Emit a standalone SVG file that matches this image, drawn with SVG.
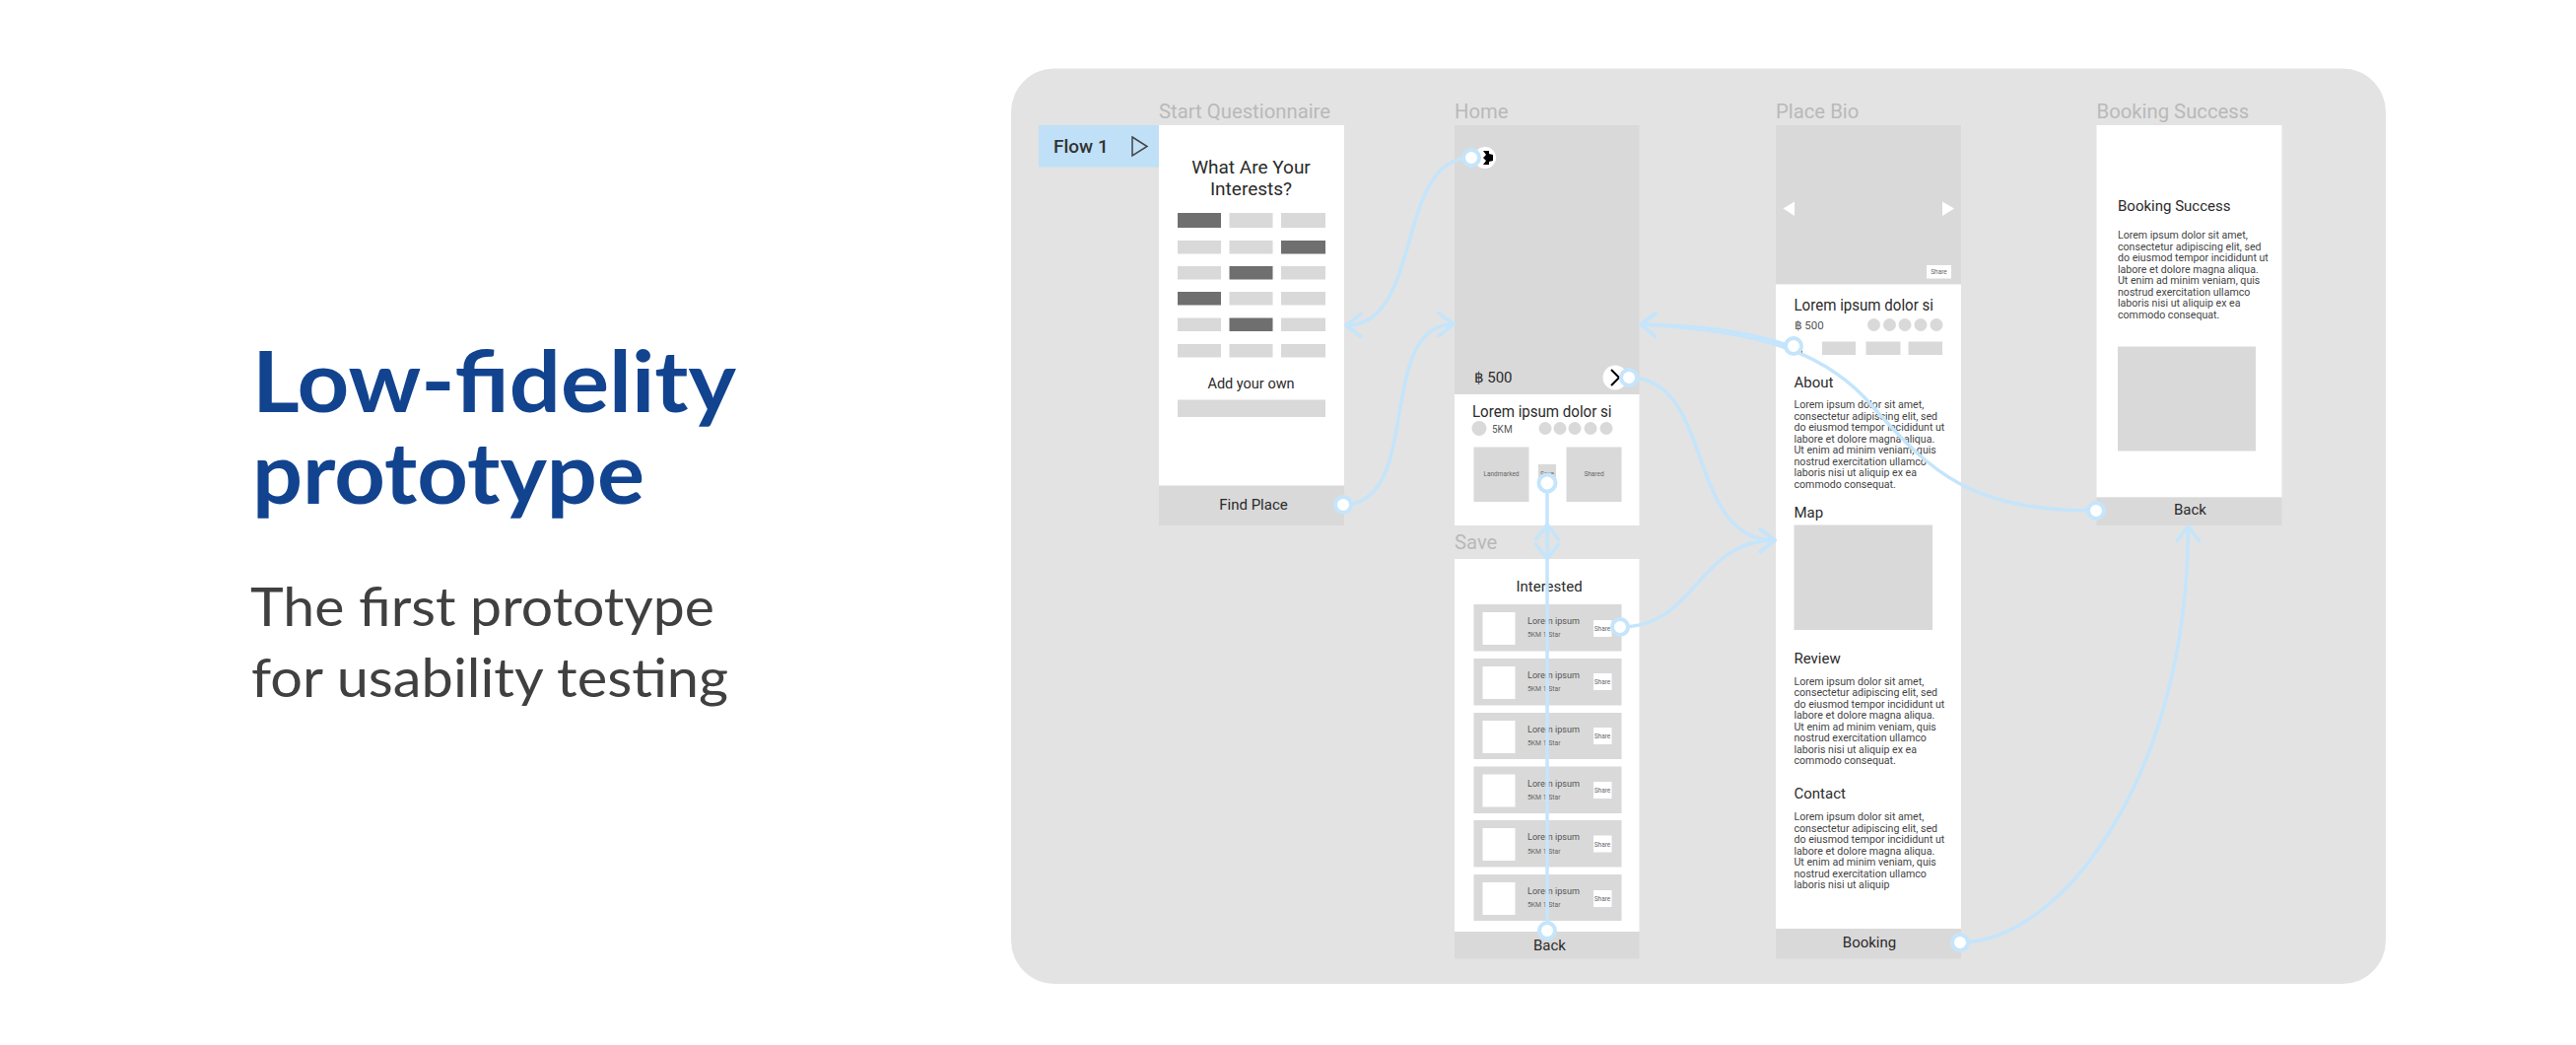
<svg xmlns="http://www.w3.org/2000/svg" width="2614" height="1060" viewBox="0 0 2614 1060">
<style>
text{font-family:Roboto,"Liberation Sans",sans-serif;fill:#2b2b2b}
.h1{font-family:Lato,"Noto Sans",sans-serif;font-weight:700;font-size:87px;fill:#12438f}
.h2{font-family:Lato,"Noto Sans",sans-serif;font-weight:400;font-size:54px;fill:#404040}
.lbl{font-size:20.300px;fill:#b9b9b9}
.c{text-anchor:middle}
.t15{font-size:15px}
.t17{font-size:16px}
.p{font-size:10.600px;fill:#444}
.s1{font-size:9.500px;fill:#555}
.s2{font-size:7.500px;fill:#666}
.s3{font-size:6.500px;fill:#666}
.w{fill:#fff}
.g{fill:#d9d9d9}
.d{fill:#6f6f6f}
.conn{fill:none;stroke:#c4e5fb;stroke-width:3.500;stroke-linecap:round}
.hdl{fill:#fff;stroke:#c4e5fb;stroke-width:4}
</style>
<defs>
<marker id="arr" markerUnits="userSpaceOnUse" markerWidth="24" markerHeight="32" refX="19" refY="16" orient="auto" overflow="visible">
<path d="M4,4.500 L19,16 L4,27.500" fill="none" stroke="#c4e5fb" stroke-width="3.500" stroke-linecap="round" stroke-linejoin="round"/>
</marker>
</defs>
<rect width="2614" height="1060" fill="#fff"/>
<g id="heading">
<text class="h1" x="256" y="418" textLength="491" lengthAdjust="spacingAndGlyphs">Low-fidelity</text>
<text class="h1" x="256" y="511" textLength="398" lengthAdjust="spacingAndGlyphs">prototype</text>
<text class="h2" x="254" y="635" textLength="471" lengthAdjust="spacingAndGlyphs">The first prototype</text>
<text class="h2" x="255" y="707" textLength="484" lengthAdjust="spacingAndGlyphs">for usability testing</text>
</g>
<rect id="panel" x="1026" y="69.500" width="1395" height="928.500" rx="44" fill="#e3e3e3"/>
<g id="flow-start">
<rect x="1054" y="127" width="122" height="42.500" fill="#bfe0f7"/>
<text x="1069" y="155" font-size="19" font-weight="500" style="fill:#333">Flow 1</text>
<path d="M1149,139 L1164,148.500 L1149,158 Z" fill="none" stroke="#444" stroke-width="1.500"/>
</g>
<g id="start-questionnaire">
<text class="lbl" x="1176" y="120">Start Questionnaire</text>
<rect class="w" x="1176" y="127" width="188" height="406"/>
<text class="c" x="1269.500" y="176" font-size="19">What Are Your</text>
<text class="c" x="1269.500" y="198" font-size="19">Interests?</text>
<rect class="d" x="1195" y="216" width="44" height="15"/><rect class="g" x="1247.500" y="216" width="44" height="15"/><rect class="g" x="1300" y="216" width="45" height="15"/>
<rect class="g" x="1195" y="244" width="44" height="13.500"/><rect class="g" x="1247.500" y="244" width="44" height="13.500"/><rect class="d" x="1300" y="244" width="45" height="13.500"/>
<rect class="g" x="1195" y="270" width="44" height="13.500"/><rect class="d" x="1247.500" y="270" width="44" height="13.500"/><rect class="g" x="1300" y="270" width="45" height="13.500"/>
<rect class="d" x="1195" y="296" width="44" height="13.500"/><rect class="g" x="1247.500" y="296" width="44" height="13.500"/><rect class="g" x="1300" y="296" width="45" height="13.500"/>
<rect class="g" x="1195" y="322.500" width="44" height="13.500"/><rect class="d" x="1247.500" y="322.500" width="44" height="13.500"/><rect class="g" x="1300" y="322.500" width="45" height="13.500"/>
<rect class="g" x="1195" y="349" width="44" height="13.500"/><rect class="g" x="1247.500" y="349" width="44" height="13.500"/><rect class="g" x="1300" y="349" width="45" height="13.500"/>
<text class="c" x="1269.500" y="394" font-size="14.500">Add your own</text>
<rect class="g" x="1195" y="405.500" width="150" height="17.500"/>
<rect class="g" x="1176" y="492.500" width="188" height="40.500"/>
<text class="c t15" x="1272" y="517">Find Place</text>
</g>
<g id="home">
<text class="lbl" x="1476" y="120">Home</text>
<rect class="g" x="1476" y="127" width="187.500" height="273"/>
<rect class="w" x="1476" y="400" width="187.500" height="133"/>
<circle class="w" cx="1507" cy="160" r="11"/>
<path d="M1505,153 L1511,153 L1511,156 L1515,157 L1515,163 L1511,164 L1511,167 L1505,167 L1508,163 L1505,160 L1508,157 Z" fill="#000"/>
<text class="t15" x="1495.500" y="388">฿ 500</text>
<circle class="w" cx="1639" cy="383" r="12.500"/>
<path d="M1635,375 L1643,383 L1635,391" fill="none" stroke="#000" stroke-width="2"/>
<text class="t17" x="1494" y="423" textLength="141.500" lengthAdjust="spacingAndGlyphs">Lorem ipsum dolor si</text>
<circle class="g" cx="1501" cy="434.500" r="7.500"/>
<text x="1514" y="439" font-size="10" style="fill:#555">5KM</text>
<circle class="g" cx="1568" cy="434.500" r="6.500"/><circle class="g" cx="1583" cy="434.500" r="6.500"/><circle class="g" cx="1598" cy="434.500" r="6.500"/><circle class="g" cx="1614" cy="434.500" r="6.500"/><circle class="g" cx="1630" cy="434.500" r="6.500"/>
<rect class="g" x="1495.500" y="453.500" width="56" height="55.500"/>
<rect class="g" x="1561" y="471" width="18" height="22"/>
<rect class="g" x="1589.500" y="453.500" width="56" height="55.500"/>
<text class="c s3" x="1523.500" y="483">Landmarked</text>
<text class="c s3" x="1570" y="483">Save</text>
<text class="c s3" x="1617.500" y="483">Shared</text>
</g>
<g id="save">
<text class="lbl" x="1476" y="557">Save</text>
<rect class="w" x="1476" y="567" width="187.500" height="378"/>
<rect class="g" x="1476" y="945" width="187.500" height="27.500"/>
<text class="c t15" x="1572" y="600">Interested</text>
<rect class="g" x="1495.500" y="613" width="150" height="47.500"/><rect class="w" x="1504.500" y="621" width="33" height="33"/><text class="s1" x="1550" y="633" textLength="53" lengthAdjust="spacingAndGlyphs">Lorem ipsum</text><text class="s2" x="1550" y="646" textLength="33.500" lengthAdjust="spacingAndGlyphs">5KM 1 Star</text><rect class="w" x="1617" y="629" width="18.500" height="17"/><text class="c s3" x="1626" y="640">Share</text>
<rect class="g" x="1495.500" y="668" width="150" height="47.500"/><rect class="w" x="1504.500" y="676" width="33" height="33"/><text class="s1" x="1550" y="688" textLength="53" lengthAdjust="spacingAndGlyphs">Lorem ipsum</text><text class="s2" x="1550" y="701" textLength="33.500" lengthAdjust="spacingAndGlyphs">5KM 1 Star</text><rect class="w" x="1617" y="683" width="18.500" height="17"/><text class="c s3" x="1626" y="694">Share</text>
<rect class="g" x="1495.500" y="723" width="150" height="47"/><rect class="w" x="1504.500" y="731" width="33" height="33"/><text class="s1" x="1550" y="742.500" textLength="53" lengthAdjust="spacingAndGlyphs">Lorem ipsum</text><text class="s2" x="1550" y="755.500" textLength="33.500" lengthAdjust="spacingAndGlyphs">5KM 1 Star</text><rect class="w" x="1617" y="738" width="18.500" height="17"/><text class="c s3" x="1626" y="749">Share</text>
<rect class="g" x="1495.500" y="777.500" width="150" height="47.500"/><rect class="w" x="1504.500" y="785.500" width="33" height="33"/><text class="s1" x="1550" y="797.500" textLength="53" lengthAdjust="spacingAndGlyphs">Lorem ipsum</text><text class="s2" x="1550" y="810.500" textLength="33.500" lengthAdjust="spacingAndGlyphs">5KM 1 Star</text><rect class="w" x="1617" y="793" width="18.500" height="17"/><text class="c s3" x="1626" y="804">Share</text>
<rect class="g" x="1495.500" y="832" width="150" height="47.500"/><rect class="w" x="1504.500" y="840" width="33" height="33"/><text class="s1" x="1550" y="852" textLength="53" lengthAdjust="spacingAndGlyphs">Lorem ipsum</text><text class="s2" x="1550" y="865.500" textLength="33.500" lengthAdjust="spacingAndGlyphs">5KM 1 Star</text><rect class="w" x="1617" y="847.500" width="18.500" height="17"/><text class="c s3" x="1626" y="858.500">Share</text>
<rect class="g" x="1495.500" y="887" width="150" height="47"/><rect class="w" x="1504.500" y="895" width="33" height="33"/><text class="s1" x="1550" y="907" textLength="53" lengthAdjust="spacingAndGlyphs">Lorem ipsum</text><text class="s2" x="1550" y="920" textLength="33.500" lengthAdjust="spacingAndGlyphs">5KM 1 Star</text><rect class="w" x="1617" y="903" width="18.500" height="17"/><text class="c s3" x="1626" y="914">Share</text>
<text class="c t15" x="1572.500" y="964">Back</text>
</g>
<g id="place-bio">
<text class="lbl" x="1802" y="120">Place Bio</text>
<rect class="g" x="1802" y="127" width="188" height="161.500"/>
<rect class="w" x="1802" y="288.500" width="188" height="653.500"/>
<path class="w" d="M1821,204.500 L1821,219 L1809.500,211.500 Z"/>
<path class="w" d="M1971,204.500 L1971,219 L1983,211.500 Z"/>
<rect class="w" x="1955" y="269" width="25" height="13.500"/>
<text class="c s3" x="1967.500" y="278">Share</text>
<text class="t17" x="1820.500" y="315" textLength="141.500" lengthAdjust="spacingAndGlyphs">Lorem ipsum dolor si</text>
<text x="1820.500" y="334" font-size="11.500" style="fill:#555">฿ 500</text>
<circle class="g" cx="1901.500" cy="329.500" r="6.500"/><circle class="g" cx="1917.500" cy="329.500" r="6.500"/><circle class="g" cx="1933" cy="329.500" r="6.500"/><circle class="g" cx="1949" cy="329.500" r="6.500"/><circle class="g" cx="1965" cy="329.500" r="6.500"/>
<rect x="1827.500" y="348" width="1.500" height="11" fill="#666"/>
<rect class="g" x="1849" y="346.500" width="34" height="13.500"/><rect class="g" x="1893.500" y="346.500" width="35" height="13.500"/><rect class="g" x="1936.500" y="346.500" width="34.500" height="13.500"/>
<text class="t15" x="1820.500" y="393">About</text>
<text class="p" x="1820.500" y="414">Lorem ipsum dolor sit amet,</text>
<text class="p" x="1820.500" y="425.500">consectetur adipiscing elit, sed</text>
<text class="p" x="1820.500" y="437">do eiusmod tempor incididunt ut</text>
<text class="p" x="1820.500" y="448.500">labore et dolore magna aliqua.</text>
<text class="p" x="1820.500" y="460">Ut enim ad minim veniam, quis</text>
<text class="p" x="1820.500" y="471.500">nostrud exercitation ullamco</text>
<text class="p" x="1820.500" y="483">laboris nisi ut aliquip ex ea</text>
<text class="p" x="1820.500" y="494.500">commodo consequat.</text>
<text class="t15" x="1820.500" y="524.500">Map</text>
<rect class="g" x="1820.500" y="532.500" width="140.500" height="106.500"/>
<text class="t15" x="1820.500" y="673">Review</text>
<text class="p" x="1820.500" y="694.500">Lorem ipsum dolor sit amet,</text>
<text class="p" x="1820.500" y="706">consectetur adipiscing elit, sed</text>
<text class="p" x="1820.500" y="717.500">do eiusmod tempor incididunt ut</text>
<text class="p" x="1820.500" y="729">labore et dolore magna aliqua.</text>
<text class="p" x="1820.500" y="740.500">Ut enim ad minim veniam, quis</text>
<text class="p" x="1820.500" y="752">nostrud exercitation ullamco</text>
<text class="p" x="1820.500" y="763.500">laboris nisi ut aliquip ex ea</text>
<text class="p" x="1820.500" y="775">commodo consequat.</text>
<text class="t15" x="1820.500" y="810">Contact</text>
<text class="p" x="1820.500" y="832">Lorem ipsum dolor sit amet,</text>
<text class="p" x="1820.500" y="843.500">consectetur adipiscing elit, sed</text>
<text class="p" x="1820.500" y="855">do eiusmod tempor incididunt ut</text>
<text class="p" x="1820.500" y="866.500">labore et dolore magna aliqua.</text>
<text class="p" x="1820.500" y="878">Ut enim ad minim veniam, quis</text>
<text class="p" x="1820.500" y="889.500">nostrud exercitation ullamco</text>
<text class="p" x="1820.500" y="901">laboris nisi ut aliquip</text>
<rect class="g" x="1802" y="942" width="188" height="30.500"/>
<text class="c t15" x="1897" y="961">Booking</text>
</g>
<g id="booking-success">
<text class="lbl" x="2127.500" y="120">Booking Success</text>
<rect class="w" x="2127.500" y="127" width="188" height="377.500"/>
<rect class="g" x="2127.500" y="504.500" width="188" height="28.500"/>
<text class="t15" x="2149" y="214">Booking Success</text>
<text class="p" x="2149" y="242">Lorem ipsum dolor sit amet,</text>
<text class="p" x="2149" y="253.500">consectetur adipiscing elit, sed</text>
<text class="p" x="2149" y="265">do eiusmod tempor incididunt ut</text>
<text class="p" x="2149" y="276.500">labore et dolore magna aliqua.</text>
<text class="p" x="2149" y="288">Ut enim ad minim veniam, quis</text>
<text class="p" x="2149" y="299.500">nostrud exercitation ullamco</text>
<text class="p" x="2149" y="311">laboris nisi ut aliquip ex ea</text>
<text class="p" x="2149" y="322.500">commodo consequat.</text>
<rect class="g" x="2149" y="351.500" width="140" height="106"/>
<text class="c t15" x="2222.500" y="522">Back</text>
</g>
<g id="connectors">
<path class="conn" marker-end="url(#arr)" d="M1493,160 C1415,160 1445,330 1366,330"/>
<path class="conn" marker-end="url(#arr)" d="M1363,512 C1445,512 1395,329 1475,329"/>
<path class="conn" marker-end="url(#arr)" d="M1653,383 C1740,383 1710,548 1801,548"/>
<path class="conn" marker-end="url(#arr)" d="M1644,636 C1722,636 1722,548 1801,548"/>
<path class="conn" marker-end="url(#arr)" d="M1820,352 C1770,335 1720,330 1665,329"/>
<path class="conn" marker-end="url(#arr)" d="M2127,518 C2000,518 1960,480 1900,412 C1860,365 1800,335 1665,329"/>
<path class="conn" marker-end="url(#arr)" d="M1989,956 C2090,956 2220,790 2220.500,534"/>
<path class="conn" marker-end="url(#arr)" d="M1570,490 L1570,567"/>
<path class="conn" marker-end="url(#arr)" d="M1570,944 L1570,532"/>
<g id="handles">
<circle class="hdl" cx="1493" cy="160" r="8"/>
<circle class="hdl" cx="1363" cy="512" r="8"/>
<circle class="hdl" cx="1653" cy="383" r="8"/>
<circle class="hdl" cx="1570" cy="490" r="8.500"/>
<circle class="hdl" cx="1570" cy="944" r="8"/>
<circle class="hdl" cx="1644" cy="636" r="8"/>
<circle class="hdl" cx="1820" cy="351" r="8"/>
<circle class="hdl" cx="2127" cy="518" r="8"/>
<circle class="hdl" cx="1989" cy="956" r="8"/>
</g>
</g>
</svg>
